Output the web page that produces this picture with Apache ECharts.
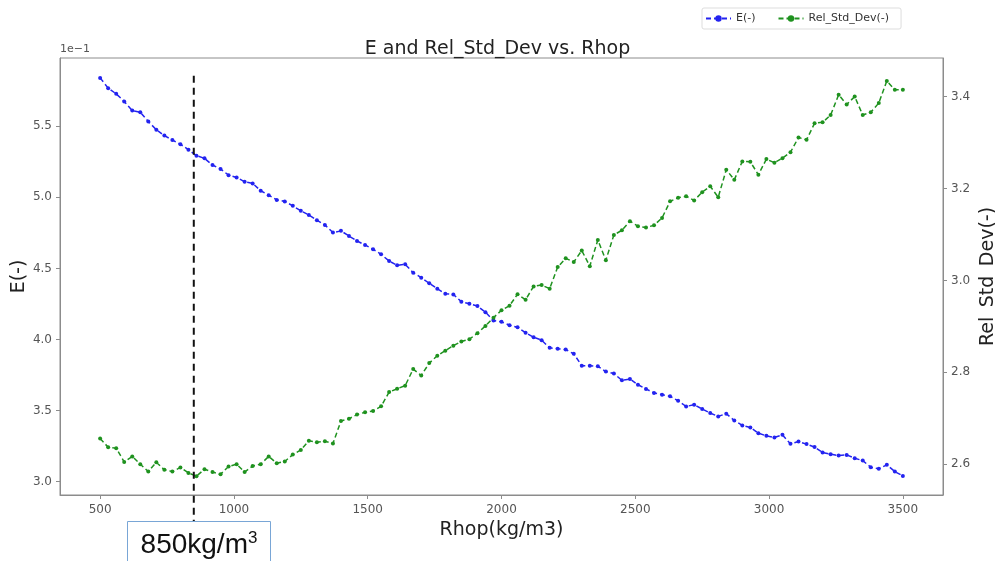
<!DOCTYPE html>
<html>
<head>
<meta charset="utf-8">
<script src="https://cdn.jsdelivr.net/npm/echarts@6/dist/echarts.min.js"></script>
<style>html,body{margin:0;padding:0;background:#fff;}#c{width:995px;height:561px;}</style>
</head>
<body>
<div id="c"></div>
<script>
// Rhop (kg/m3): 500 to 3500 in steps of 30
var rhop = [];
for (var i = 0; i <= 100; i++) rhop.push(500 + 30 * i);

// E(-) values in units of 1e-1
var eValues = [
5.840,5.768,5.728,5.674,5.610,5.599,5.533,5.476,5.434,5.403,
5.373,5.335,5.293,5.274,5.227,5.199,5.156,5.140,5.109,5.098,
5.046,5.015,4.982,4.971,4.940,4.905,4.876,4.839,4.806,4.752,
4.764,4.728,4.693,4.665,4.634,4.599,4.552,4.522,4.529,4.470,
4.435,4.395,4.357,4.322,4.317,4.266,4.251,4.235,4.192,4.134,
4.124,4.100,4.086,4.047,4.016,3.995,3.941,3.934,3.929,3.899,
3.816,3.816,3.811,3.774,3.760,3.713,3.722,3.682,3.652,3.624,
3.612,3.600,3.569,3.529,3.541,3.511,3.482,3.459,3.478,3.430,
3.395,3.381,3.341,3.322,3.311,3.329,3.266,3.282,3.264,3.243,
3.205,3.193,3.183,3.188,3.165,3.148,3.101,3.090,3.118,3.071,
3.040
];

// Rel_Std_Dev(-)
var relStd = [
2.656,2.637,2.635,2.605,2.617,2.600,2.584,2.604,2.588,2.584,
2.593,2.581,2.574,2.589,2.583,2.578,2.595,2.600,2.583,2.596,
2.600,2.617,2.602,2.606,2.621,2.631,2.651,2.648,2.650,2.645,
2.694,2.699,2.708,2.713,2.716,2.726,2.757,2.764,2.771,2.807,
2.793,2.820,2.836,2.847,2.858,2.867,2.872,2.885,2.901,2.919,
2.935,2.945,2.970,2.958,2.987,2.990,2.982,3.029,3.048,3.040,
3.065,3.031,3.088,3.044,3.099,3.109,3.129,3.118,3.115,3.120,
3.136,3.172,3.180,3.183,3.174,3.192,3.205,3.181,3.241,3.219,
3.259,3.258,3.230,3.264,3.256,3.266,3.279,3.311,3.306,3.342,
3.344,3.360,3.404,3.383,3.400,3.360,3.366,3.386,3.434,3.415,
3.415
];

var xTicks = [500, 1000, 1500, 2000, 2500, 3000, 3500];
var leftTicks = [3.0, 3.5, 4.0, 4.5, 5.0, 5.5];
var rightTicks = [2.6, 2.8, 3.0, 3.2, 3.4];
var markerRhop = 850;
var markerTopE = 5.855;

var font = 'DejaVu Sans';
var axisGray = '#8c8c8c';
var labelGray = '#555';

function pairs(xs, ys) { return xs.map(function (x, i) { return [x, ys[i]]; }); }

var chart = echarts.init(document.getElementById('c'), null, {renderer: 'canvas'});
var option = {
  animation: false,
  backgroundColor: '#fff',
  title: {
    text: 'E and Rel_Std_Dev vs. Rhop',
    left: 'center', top: 35,
    textStyle: {fontFamily: font, fontSize: 19, fontWeight: 'normal', color: '#222'}
  },
  legend: {
    left: 702, top: 8,
    padding: [5, 12, 5, 3],
    itemGap: 22, itemWidth: 25, itemHeight: 8,
    borderColor: '#ddd', borderWidth: 1, borderRadius: 2,
    textStyle: {fontFamily: font, fontSize: 11, color: '#333'},
    data: ['E(-)', 'Rel_Std_Dev(-)']
  },
  grid: {left: 60, right: 52, top: 58, bottom: 66, show: true, borderColor: axisGray, borderWidth: 1,
    containLabel: false, outerBoundsMode: 'none'},
  xAxis: {
    type: 'value', min: 350, max: 3650,
    name: 'Rhop(kg/m3)', nameLocation: 'middle', nameGap: 26,
    nameTextStyle: {fontFamily: font, fontSize: 19, color: '#222'},
    axisLine: {show: true, lineStyle: {color: axisGray}},
    axisTick: {show: true, inside: false, length: 4, lineStyle: {color: axisGray}, customValues: xTicks},
    axisLabel: {fontFamily: font, fontSize: 12, color: labelGray, margin: 9, customValues: xTicks,
      formatter: function (v) { return String(v); }},
    splitLine: {show: false}
  },
  yAxis: [{
    type: 'value', position: 'left', min: 2.906, max: 5.98,
    name: 'E(-)', nameLocation: 'middle', nameGap: 31, nameRotate: 90, nameMoveOverlap: false,
    nameTextStyle: {fontFamily: font, fontSize: 19, color: '#222'},
    axisLine: {show: true, lineStyle: {color: axisGray}},
    axisTick: {show: true, length: 4, lineStyle: {color: axisGray}, customValues: leftTicks},
    axisLabel: {fontFamily: font, fontSize: 12, color: labelGray, margin: 8, customValues: leftTicks,
      formatter: function (v) { return v.toFixed(1); }},
    splitLine: {show: false}
  }, {
    type: 'value', position: 'right', min: 2.533, max: 3.484,
    name: 'Rel_Std_Dev(-)', nameLocation: 'middle', nameGap: 36, nameRotate: 90, nameMoveOverlap: false,
    nameTextStyle: {fontFamily: font, fontSize: 19, color: '#222'},
    axisLine: {show: true, lineStyle: {color: axisGray}},
    axisTick: {show: true, length: 4, lineStyle: {color: axisGray}, customValues: rightTicks},
    axisLabel: {fontFamily: font, fontSize: 12, color: labelGray, margin: 8, customValues: rightTicks,
      formatter: function (v) { return v.toFixed(1); }},
    splitLine: {show: false}
  }],
  series: [{
    name: 'E(-)', type: 'line', yAxisIndex: 0,
    data: pairs(rhop, eValues),
    symbol: 'circle', symbolSize: 4, showSymbol: true,
    itemStyle: {color: '#2323f0'},
    lineStyle: {color: '#2323f0', width: 1.5, type: [5, 3]}
  }, {
    name: 'Rel_Std_Dev(-)', type: 'line', yAxisIndex: 1,
    data: pairs(rhop, relStd),
    symbol: 'circle', symbolSize: 4, showSymbol: true,
    itemStyle: {color: '#1f921f'},
    lineStyle: {color: '#1f921f', width: 1.5, type: [5, 3]}
  }]
};
chart.setOption(option);

var px = chart.convertToPixel({xAxisIndex: 0}, markerRhop);
var pyTop = chart.convertToPixel({yAxisIndex: 0}, markerTopE);
chart.setOption({
  graphic: [
    {type: 'line', z: 50, shape: {x1: px, y1: pyTop, x2: px, y2: 521},
      style: {stroke: '#111', lineWidth: 2, lineDash: [7, 5]}},
    {type: 'text', z: 50, left: 60, top: 44,
      style: {text: '1e\u22121', font: '11px "DejaVu Sans"', fill: labelGray}},
    {type: 'rect', z: 60, shape: {x: 127.5, y: 521.5, width: 143, height: 50},
      style: {fill: '#fff', stroke: '#79a6d6', lineWidth: 1}},
    {type: 'text', z: 61, x: 199, y: 545,
      style: {
        text: '{b|850kg/m}{s|3}',
        align: 'center', verticalAlign: 'middle',
        rich: {
          b: {fontFamily: 'Liberation Sans', fontSize: 28, fill: '#111', color: '#111', lineHeight: 30, verticalAlign: 'middle'},
          s: {fontFamily: 'Liberation Sans', fontSize: 17, fill: '#111', color: '#111', lineHeight: 17, verticalAlign: 'top'}
        }
      }}
  ]
});
</script>
</body>
</html>
